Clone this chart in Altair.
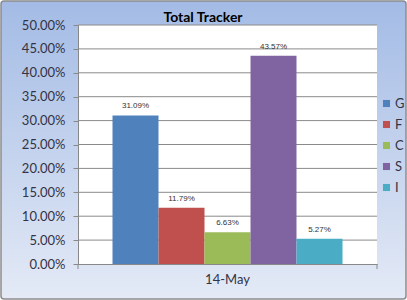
import altair as alt
import pandas as pd

categories = ["G", "F", "C", "S", "I"]
values = [0.3109, 0.1179, 0.0663, 0.4357, 0.0527]
colors = ["#4f81bd", "#c0504d", "#9bbb59", "#8064a2", "#4bacc6"]
period = "14-May"
y_ticks = [0, 0.05, 0.10, 0.15, 0.20, 0.25, 0.30, 0.35, 0.40, 0.45, 0.50]
title_text = "Total Tracker"

df = pd.DataFrame({"date": [period] * len(categories), "series": categories, "value": values})
grid_df = pd.DataFrame({"value": y_ticks[1:]})

W, H = 299, 239
PAD = {"left": 78, "top": 25, "right": 30, "bottom": 36}

yscale = alt.Scale(domain=[0, 0.5], nice=False)
yaxis = alt.Axis(values=y_ticks, format=".2%", labelFontSize=13,
                 labelColor="#333344", labelFont="Lato",
                 labelOverlap=False, labelFlush=False,
                 grid=False,
                 domainColor="#888888", tickColor="#888888", tickSize=5,
                 labelPadding=8, zindex=1)
yenc = alt.Y("value:Q", title=None, scale=yscale, axis=yaxis)

bg = alt.Chart(alt.Data(values=[{"k": 1}])).mark_rect(
    fill=alt.Gradient(
        gradient="linear",
        stops=[alt.GradientStop(color="#a3bbe5", offset=0),
               alt.GradientStop(color="#e4eaf6", offset=1)],
        x1=0, x2=0, y1=0, y2=1,
    ),
    stroke="#8c8c8c", strokeWidth=1.5, cornerRadius=3,
).encode(
    x=alt.value(-PAD["left"] + 1), x2=alt.value(W + PAD["right"] - 1),
    y=alt.value(-PAD["top"] + 1), y2=alt.value(H + PAD["bottom"] - 1),
)

plotbg = alt.Chart(alt.Data(values=[{"k": 1}])).mark_rect(fill="white").encode(
    x=alt.value(0), x2=alt.value(W), y=alt.value(0), y2=alt.value(H)
)

grid = alt.Chart(grid_df).mark_rule(color="#8a8a8a", strokeWidth=1).encode(
    y=yenc,
    x=alt.value(0), x2=alt.value(W),
)

title = alt.Chart(alt.Data(values=[{"k": 1}])).mark_text(
    text=title_text, font="Lato", fontSize=14, fontWeight="bold", color="#000000",
    align="center", baseline="alphabetic",
).encode(x=alt.value(125), y=alt.value(-3))

base = alt.Chart(df)

xenc = alt.X("date:N", title=None,
             scale=alt.Scale(paddingOuter=0.15, paddingInner=0),
             axis=alt.Axis(labelAngle=0, labelFontSize=13, labelColor="#333344",
                           labelFont="Lato", domainColor="#888888", ticks=False,
                           labelPadding=9, zindex=1))
xoff = alt.XOffset("series:N", sort=categories, scale=alt.Scale(paddingInner=0, paddingOuter=0))

bars = base.mark_bar().encode(
    x=xenc,
    xOffset=xoff,
    y=yenc,
    color=alt.Color("series:N", sort=categories,
                    scale=alt.Scale(domain=categories, range=colors),
                    legend=alt.Legend(title=None, orient="none", legendX=302, legendY=72,
                                      padding=0,
                                      symbolType="square", symbolSize=50,
                                      symbolStrokeWidth=0, labelFontSize=13,
                                      labelFont="Lato", labelColor="#333344",
                                      rowPadding=7, labelOffset=2)),
)

labels = base.mark_text(dy=-9, fontSize=8, font="Liberation Sans", color="#333333").encode(
    x=xenc,
    xOffset=xoff,
    y=yenc,
    text=alt.Text("value:Q", format=".2%"),
)

edge_ticks = alt.Chart(alt.Data(values=[{"k": 1}])).mark_rule(color="#888888").encode(
    x=alt.value(0), y=alt.value(H), y2=alt.value(H + 5)
)
edge_ticks2 = alt.Chart(alt.Data(values=[{"k": 1}])).mark_rule(color="#888888").encode(
    x=alt.value(W), y=alt.value(H), y2=alt.value(H + 5)
)

chart = alt.layer(bg, plotbg, grid, bars, labels, edge_ticks, edge_ticks2, title).properties(
    width=W, height=H,
    autosize=alt.AutoSizeParams(type="none"),
    padding=PAD,
).configure_view(stroke=None)

chart.save("out.html", embed_options={"renderer": "svg", "actions": False})
